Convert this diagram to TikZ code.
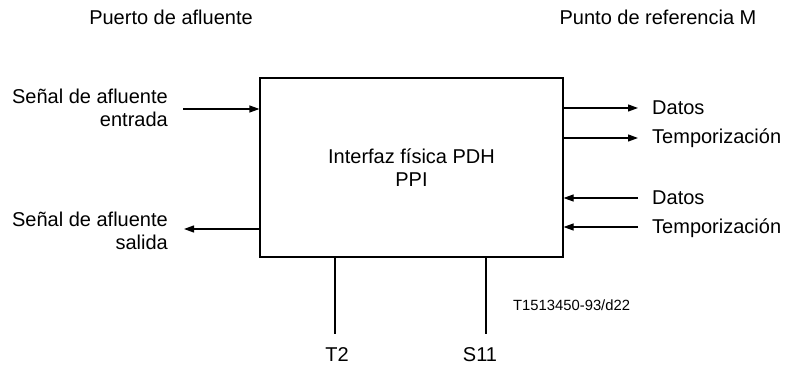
\documentclass[tikz,border=0pt]{standalone}
\usepackage{fontspec}
\setmainfont{Liberation Sans}
\usepackage{tikz}
\usetikzlibrary{arrows.meta, positioning, calc}

\begin{document}
\begin{tikzpicture}[
    x=1pt, y=-1pt,
    blk/.style={draw, line width=1.2pt, minimum width=303pt, minimum height=179pt, inner sep=0pt},
    lbl/.style={font=\fontsize{20}{22.5}\selectfont, inner sep=0pt},
    tag/.style={font=\fontsize{14.8}{16}\selectfont, inner sep=0pt},
    sig/.style={line width=1.2pt, -{Triangle[length=10pt,width=7pt]}},
    wire/.style={line width=1.2pt}
]
    \useasboundingbox (0,0) rectangle (790,371);

    % headings
    \node[lbl] (port) at (171,17) {Puerto de afluente};
    \node[lbl] (refm) at (658,17) {Punto de referencia M};

    % interface block
    \node[blk, lbl, align=center] (ppi) at (411.5,167.5) {Interfaz física PDH\\PPI};

    % tributary side
    \coordinate (trin) at (183,109);
    \coordinate (trout) at (184,229);
    \draw[sig] (trin) -- (trin -| ppi.west);
    \draw[sig] (trout -| ppi.west) -- (trout);
    \node[lbl, anchor=east, align=right] (inlbl) at (168,108) {Señal de afluente\\entrada};
    \node[lbl, anchor=east, align=right] (outlbl) at (168,231) {Señal de afluente\\salida};

    % reference point M side
    \coordinate (dout) at (638,108);
    \coordinate (tout) at (638,138);
    \coordinate (din) at (638,198);
    \coordinate (tin) at (638,227);
    \draw[sig] (dout -| ppi.east) -- (dout);
    \draw[sig] (tout -| ppi.east) -- (tout);
    \draw[sig] (din) -- (din -| ppi.east);
    \draw[sig] (tin) -- (tin -| ppi.east);
    \node[lbl, anchor=west] (doutlbl) at (652,108) {Datos};
    \node[lbl, anchor=west] (toutlbl) at (652,138) {Temporización};
    \node[lbl, anchor=west] (dinlbl) at (652,198) {Datos};
    \node[lbl, anchor=west] (tinlbl) at (652,228) {Temporización};

    % bottom interfaces
    \coordinate (tend) at (335,334);
    \coordinate (send) at (486,334);
    \draw[wire] (ppi.south -| tend) -- (tend);
    \draw[wire] (ppi.south -| send) -- (send);
    \node[lbl] (t2) at (337,355) {T2};
    \node[lbl] (s11) at (480,355) {S11};

    \node[tag, anchor=west] (code) at (513,305) {T1513450-93/d22};
\end{tikzpicture}
\end{document}
